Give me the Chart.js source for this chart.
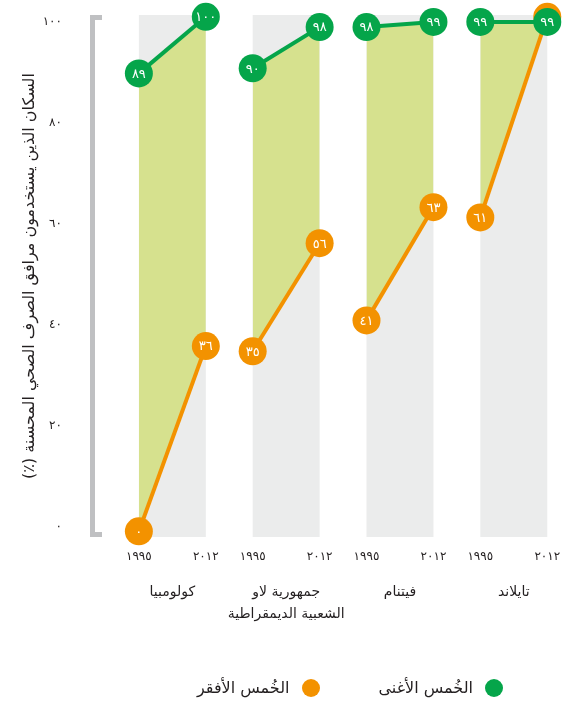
<!DOCTYPE html>
<html lang="ar">
<head>
<meta charset="utf-8">
<script src="https://cdn.jsdelivr.net/npm/chart.js@4.4.1/dist/chart.umd.min.js"></script>
<style>
  html, body { margin: 0; padding: 0; background: #fff; }
  #wrap { position: relative; width: 576px; height: 708px; }
  #legend {
    position: absolute; top: 678px; right: 73px;
    display: flex; direction: rtl; align-items: center;
    font-family: "DejaVu Sans", sans-serif; font-size: 16px; color: #231f20;
  }
  .item { display: flex; align-items: center; margin-left: 59px; }
  .item:last-child { margin-left: 0; }
  .dot { width: 18px; height: 18px; border-radius: 50%; margin-left: 12px; }
</style>
</head>
<body>
<div id="wrap">
  <canvas id="chart" width="576" height="708"></canvas>
  <div id="legend"></div>
</div>
<script>
// --- DATA ---
const countries = [
    ['كولومبيا'],
    ['جمهورية لاو', 'الشعبية الديمقراطية'],
    ['فيتنام'],
    ['تايلاند']
];
const years = [1995, 2012];
const richest = [[89, 100], [90, 98], [98, 99], [99, 99]];
const poorest = [[0, 36], [35, 56], [41, 63], [61, 100]];
const yTicks = [0, 20, 40, 60, 80, 100];
const seriesNames = ['الخُمس الأغنى', 'الخُمس الأفقر'];
const yTitle = 'السكان الذين يستخدمون مرافق الصرف الصحي المحسنة (٪)';

// --- STYLE ---
const GREEN = '#05a54a';
const ORANGE = '#f39200';
const FILL = '#d6e18e';
const BAND = '#ebecec';
const BRACKET = '#bfc0c2';
const TEXT = '#231f20';
const FONT = '"DejaVu Sans", sans-serif';
const GROUP_STEP = 1.7; // distance from one country's 1995 to the next

// Arabic-Indic digits
const ar = n => String(n).replace(/\d/g, d => '٠١٢٣٤٥٦٧٨٩'[d]);
const rtl = s => '\u202B' + s + '\u202C';
const xOf = (g, j) => g * GROUP_STEP + j;

const xTickPos = [];
countries.forEach((c, g) => years.forEach((y, j) => xTickPos.push(xOf(g, j))));
const groupCentres = countries.map((c, g) => xOf(g, 0.5));

// one dataset per country and series, so the filled area stops between countries
const datasets = [];
countries.forEach((c, g) => {
    datasets.push({
        label: seriesNames[0],
        data: years.map((y, j) => ({ x: xOf(g, j), y: richest[g][j] })),
        borderColor: GREEN, backgroundColor: FILL,
        pointBackgroundColor: GREEN,
        fill: { target: g * 2 + 1, above: FILL, below: FILL }
    });
    datasets.push({
        label: seriesNames[1],
        data: years.map((y, j) => ({ x: xOf(g, j), y: poorest[g][j] })),
        borderColor: ORANGE, backgroundColor: ORANGE,
        pointBackgroundColor: ORANGE,
        fill: false
    });
});
datasets.forEach(ds => {
    Object.assign(ds, {
        borderWidth: 4, pointRadius: 14, pointHoverRadius: 14,
        pointBorderWidth: 0, tension: 0, clip: false,
        order: ds.label === seriesNames[0] ? 0 : 1   // green drawn over orange
    });
});

// no extra room for edge labels, the layout is set by hand
const noPad = s => { s.paddingTop = s.paddingBottom = s.paddingLeft = s.paddingRight = 0; };

// grey column behind each country, bracket on the left
const backdrop = {
    id: 'backdrop',
    beforeDraw(chart) {
        const { ctx, chartArea, scales } = chart;
        ctx.save();
        ctx.fillStyle = BAND;
        countries.forEach((c, g) => {
            const x0 = scales.x.getPixelForValue(xOf(g, 0));
            const x1 = scales.x.getPixelForValue(xOf(g, 1));
            ctx.fillRect(x0, chartArea.top, x1 - x0, chartArea.bottom - chartArea.top);
        });
        const left = chartArea.left;
        ctx.strokeStyle = BRACKET;
        ctx.lineWidth = 5;
        ctx.lineJoin = 'miter';
        ctx.beginPath();
        ctx.moveTo(left + 10, chartArea.top + 2.5);
        ctx.lineTo(left + 0.5, chartArea.top + 2.5);
        ctx.lineTo(left + 0.5, chartArea.bottom - 2.5);
        ctx.lineTo(left + 10, chartArea.bottom - 2.5);
        ctx.stroke();
        ctx.restore();
    }
};

// value inside each circle
const pointLabels = {
    id: 'pointLabels',
    afterDatasetDraw(chart, args) {
        const { ctx } = chart;
        const ds = chart.data.datasets[args.index];
        ctx.save();
        ctx.fillStyle = '#fff';
        ctx.font = '13px ' + FONT;
        ctx.textAlign = 'center';
        ctx.textBaseline = 'middle';
        args.meta.data.forEach((pt, i) => {
            ctx.fillText(ar(ds.data[i].y), pt.x, pt.y + 1);
        });
        ctx.restore();
    }
};

new Chart(document.getElementById('chart'), {
    type: 'line',
    data: { datasets },
    plugins: [backdrop, pointLabels],
    options: {
        responsive: false,
        animation: false,
        events: [],
        layout: { padding: { top: 15, bottom: 73, left: 0, right: 0 } },
        plugins: {
            legend: { display: false },
            tooltip: { enabled: false },
            filler: { drawTime: 'beforeDatasetsDraw' }
        },
        scales: {
            x: {
                type: 'linear', position: 'bottom', weight: 1,
                min: -0.7, max: 6.32,
                grid: { display: false, drawTicks: false },
                border: { display: false },
                afterBuildTicks: s => { s.ticks = xTickPos.map(v => ({ value: v })); },
                afterFit: s => { noPad(s); s.height = 28; },
                ticks: {
                    autoSkip: false, maxRotation: 0, padding: 13,
                    color: TEXT, font: { family: FONT, size: 12 },
                    callback: (v, i) => ar(years[i % years.length])
                }
            },
            country: {
                type: 'linear', position: 'bottom', weight: 2, axis: 'x',
                min: -0.7, max: 6.32,
                grid: { display: false, drawTicks: false },
                border: { display: false },
                afterBuildTicks: s => { s.ticks = groupCentres.map(v => ({ value: v })); },
                afterFit: s => { noPad(s); s.height = 70; },
                ticks: {
                    autoSkip: false, maxRotation: 0, padding: 16,
                    color: TEXT, font: { family: FONT, size: 14, lineHeight: 1.6 },
                    callback: (v, i) => countries[i]
                }
            },
            // value axis for the marks (not drawn)
            y: {
                display: false,
                min: -1.1, max: 100.35
            },
            // the printed scale on the left, spaced a little wider than the marks
            yLabels: {
                type: 'linear', position: 'left', axis: 'y',
                min: -1.98, max: 101.4,
                grid: { display: false, drawTicks: false },
                border: { display: false },
                afterBuildTicks: s => { s.ticks = yTicks.map(v => ({ value: v })); },
                afterFit: s => { noPad(s); s.width = 92; },
                ticks: {
                    padding: 30, color: TEXT,
                    font: { family: FONT, size: 12 },
                    callback: v => ar(v)
                },
                title: {
                    display: true, text: rtl(yTitle), color: TEXT,
                    font: { family: FONT, size: 16 },
                    padding: { top: 20, bottom: 0 }
                }
            }
        }
    }
});

// legend
const legend = document.getElementById('legend');
[[seriesNames[0], GREEN], [seriesNames[1], ORANGE]].forEach(([name, col]) => {
    const item = document.createElement('div');
    item.className = 'item';
    item.innerHTML = `<span class="dot" style="background:${col}"></span><span>${name}</span>`;
    legend.appendChild(item);
});
</script>
</body>
</html>
